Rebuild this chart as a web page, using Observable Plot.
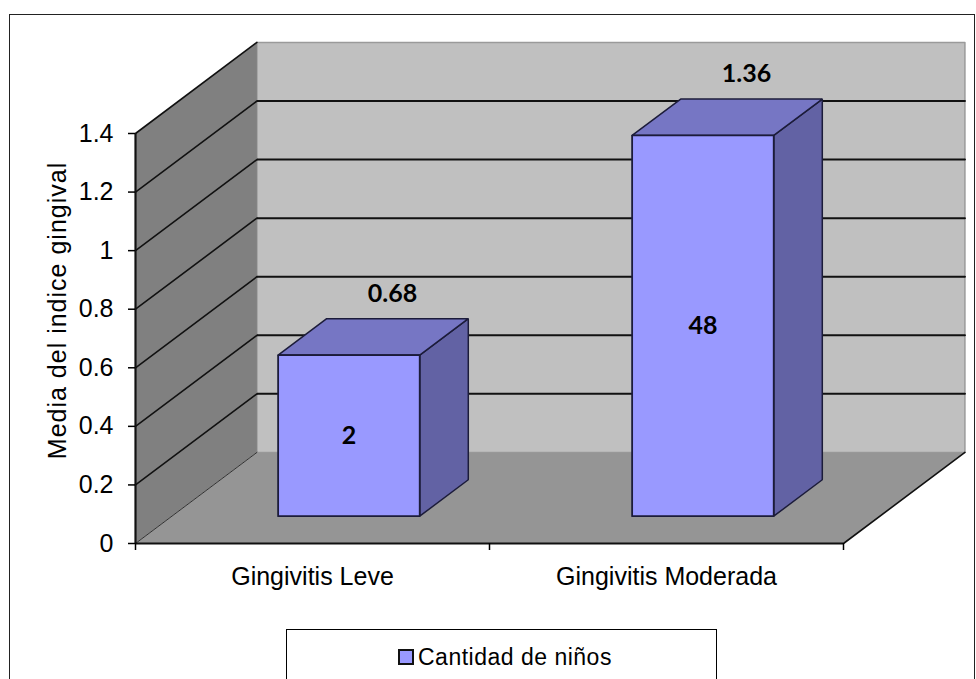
<!DOCTYPE html>
<html>
<head>
<meta charset="utf-8">
<script src="https://cdn.jsdelivr.net/npm/d3@7"></script>
<script src="https://cdn.jsdelivr.net/npm/@observablehq/plot@0.6"></script>
<style>
html, body { margin: 0; padding: 0; background: #fff; }
#wrap { position: relative; width: 976px; height: 679px; overflow: hidden; font-family: "Liberation Sans", Arial, sans-serif; }
#frame { position: absolute; left: 9px; top: 14px; width: 966px; height: 720px; border: 1.5px solid #222; box-sizing: border-box; }
#chart { position: absolute; left: 0; top: 0; }
#legend { position: absolute; left: 286px; top: 629px; width: 431px; height: 80px; border: 1px solid #000; box-sizing: border-box; background: #fff; }
#legend .sw { position: absolute; left: 111px; top: 19px; width: 16px; height: 16px; background: #9999ff; border: 2px solid #111; box-sizing: border-box; }
#legend .tx { position: absolute; left: 131px; top: 14px; font-size: 23px; line-height: 26px; letter-spacing: 0.5px; color: #000; white-space: nowrap; }
</style>
</head>
<body>
<div id="wrap">
  <div id="frame"></div>
  <div id="chart"></div>
  <div id="legend"><div class="sw"></div><div class="tx"></div></div>
</div>
<script>
// ---- data ----
const categorias = ["Gingivitis Leve", "Gingivitis Moderada"];
const alturaBarras = [0.55, 1.30];       // bar heights as drawn against the axis
const mediaIndice = [0.68, 1.36];        // labels above the bars
const cantidadNinos = [2, 48];           // labels inside the bars
const ticksY = [0, 0.2, 0.4, 0.6, 0.8, 1, 1.2, 1.4];
const tituloY = "Media del indice gingival";
const serie = "Cantidad de niños";

// ---- oblique 3D projection (depth in data units of each scale) ----
const DX = 0.343, DY = 0.311;
const P = (x, y, z) => ({x: x + z * DX, y: y + z * DY});
const nCat = categorias.length;
const yMax = ticksY[ticksY.length - 1];
const poly = (id, pts) => [...pts, pts[0]].map(p => ({id, ...p}));
const seg = (id, a, b) => [{id, ...a}, {id, ...b}];

const backWall = poly("back", [P(0, 0, 1), P(nCat, 0, 1), P(nCat, yMax, 1), P(0, yMax, 1)]);
const sideWall = poly("side", [P(0, 0, 0), P(0, 0, 1), P(0, yMax, 1), P(0, yMax, 0)]);
const floor = poly("floor", [P(0, 0, 0), P(nCat, 0, 0), P(nCat, 0, 1), P(0, 0, 1)]);
const floorRight = seg("fr", P(nCat, 0, 0), P(nCat, 0, 1));
const floorLeft = seg("fl", P(0, 0, 0), P(0, 0, 1));
const backGrid = ticksY.filter(v => v > 0 && v < yMax).flatMap(v => seg("b" + v, P(0, v, 1), P(nCat, v, 1)));
const sideGrid = ticksY.filter(v => v > 0).flatMap(v => seg("s" + v, P(0, v, 0), P(0, v, 1)));

const W = 0.2, Z0 = 0.3, Z1 = 0.7;
const fronts = [], tops = [], sides = [];
categorias.forEach((c, i) => {
  const cx = i + 0.5, h = alturaBarras[i];
  fronts.push(...poly("f" + i, [P(cx - W, 0, Z0), P(cx + W, 0, Z0), P(cx + W, h, Z0), P(cx - W, h, Z0)]));
  tops.push(...poly("t" + i, [P(cx - W, h, Z0), P(cx + W, h, Z0), P(cx + W, h, Z1), P(cx - W, h, Z1)]));
  sides.push(...poly("s" + i, [P(cx + W, 0, Z0), P(cx + W, 0, Z1), P(cx + W, h, Z1), P(cx + W, h, Z0)]));
});
const topLabels = categorias.map((c, i) => ({...P(i + 0.5, alturaBarras[i], Z1), t: mediaIndice[i].toFixed(2)}));
const innerLabels = categorias.map((c, i) => ({...P(i + 0.5, alturaBarras[i] / 2, Z0), t: String(cantidadNinos[i])}));

const bold = {fontFamily: "Lato, 'Open Sans', sans-serif", fontWeight: "bold", fontSize: 25, fill: "#000"};

const chart = Plot.plot({
  width: 976,
  height: 620,
  marginLeft: 135, marginRight: 133, marginTop: 133, marginBottom: 77,
  x: {type: "linear", domain: [0, nCat], range: [135, 843]},
  y: {type: "linear", domain: [0, yMax], range: [543, 133]},
  style: {fontFamily: '"Liberation Sans", Arial, sans-serif', fontSize: "25px", background: "transparent", color: "#000", overflow: "visible"},
  marks: [
    Plot.line(backWall, {x: "x", y: "y", z: "id", fill: "#c0c0c0", stroke: "#9a9a9a", strokeWidth: 1.5}),
    Plot.line(backGrid, {x: "x", y: "y", z: "id", stroke: "#111", strokeWidth: 2}),
    Plot.line(sideWall, {x: "x", y: "y", z: "id", fill: "#808080", stroke: "none"}),
    Plot.line(sideGrid, {x: "x", y: "y", z: "id", stroke: "#111", strokeWidth: 1.6}),
    Plot.line(floor, {x: "x", y: "y", z: "id", fill: "#959595", stroke: "none"}),
    Plot.line(floorLeft, {x: "x", y: "y", z: "id", stroke: "#333", strokeWidth: 1}),
    Plot.line(floorRight, {x: "x", y: "y", z: "id", stroke: "#111", strokeWidth: 1.6}),
    Plot.line(sides, {x: "x", y: "y", z: "id", fill: "#6262a4", stroke: "#1c1c3a", strokeWidth: 1.5, strokeLinejoin: "miter"}),
    Plot.line(tops, {x: "x", y: "y", z: "id", fill: "#7676c4", stroke: "#1c1c3a", strokeWidth: 1.5, strokeLinejoin: "miter"}),
    Plot.line(fronts, {x: "x", y: "y", z: "id", fill: "#9999ff", stroke: "#1c1c3a", strokeWidth: 1.8, strokeLinejoin: "miter"}),
    Plot.text(topLabels, {x: "x", y: "y", text: "t", dx: -5, dy: -25, ...bold}),
    Plot.text(innerLabels, {x: "x", y: "y", text: "t", ...bold}),
    Plot.ruleY([0], {x1: 0, x2: nCat, stroke: "#111", strokeWidth: 2.2}),
    Plot.ruleX([0], {y1: 0, y2: yMax, stroke: "#111", strokeWidth: 2.2}),
    Plot.axisY(ticksY, {anchor: "left", tickSize: 7, tickPadding: 15, strokeWidth: 1.5, tickFormat: d => d3.format("~g")(d), label: null, fontSize: 25}),
    Plot.axisX(d3.range(nCat + 1), {anchor: "bottom", tickSize: 7, strokeWidth: 1.5, tickFormat: () => "", label: null}),
    Plot.text(categorias, {x: (d, i) => i + 0.5, y: 0, dy: 33, text: d => d, fontSize: 25}),
    Plot.text([tituloY], {frameAnchor: "left", textAnchor: "middle", lineAnchor: "middle", dx: -78, dy: -28, rotate: -90, text: d => d, fontSize: 25})
  ]
});
document.getElementById("chart").appendChild(chart);
chart.querySelectorAll("text").forEach(t => { if (t.textContent === tituloY) t.style.letterSpacing = "1px"; });
document.querySelector("#legend .tx").textContent = serie;
</script>
</body>
</html>
